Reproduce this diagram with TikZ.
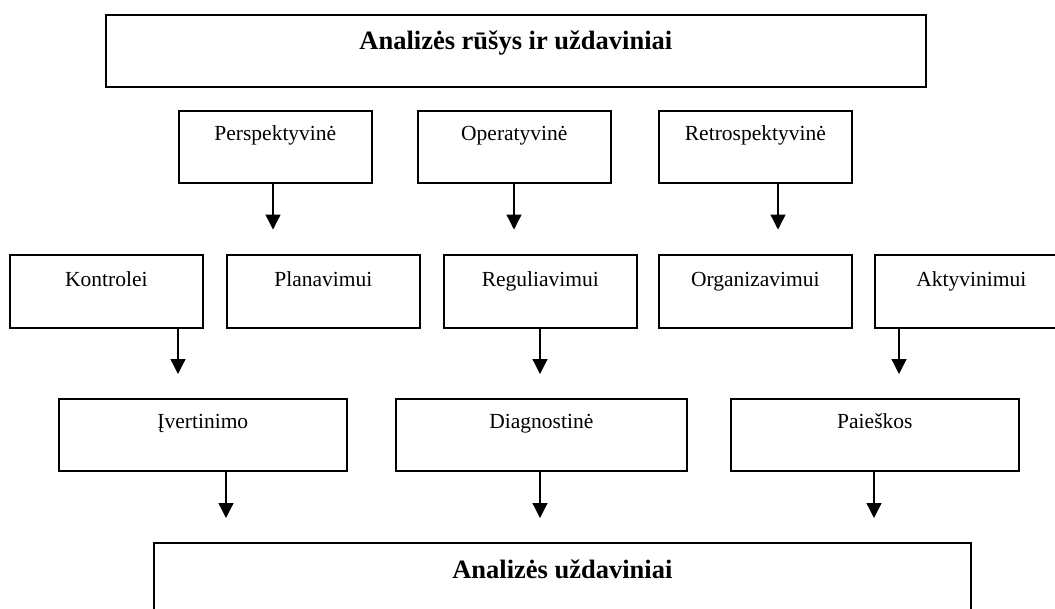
\documentclass[tikz,border=0pt]{standalone}
\usepackage{fontspec}
\setmainfont{Liberation Serif}
\usetikzlibrary{arrows.meta}
\begin{document}
\begin{tikzpicture}[x=1pt,y=-1pt,
  box/.style={draw, line width=1.7pt, inner sep=0pt, anchor=north west,
    font=\fontsize{21.5}{24}\selectfont, text height=30pt, text depth=42pt},
  bigbox/.style={draw, line width=1.7pt, inner sep=0pt, anchor=north west,
    font=\fontsize{26.5}{30}\bfseries\selectfont},
  arr/.style={line width=1.3pt, -{Triangle[width=15pt,length=15pt]}}]
\clip (0,0) rectangle (1055,608);
\fill[white] (0,0) rectangle (1055,608);
% top
\node[bigbox, minimum width=820pt, text height=35pt, text depth=37pt] (top) at (105,14) {Analizės rūšys ir uždaviniai};
% row 2
\node[box, minimum width=193pt] (persp) at (178,110) {Perspektyvinė};
\node[box, minimum width=193pt] (oper) at (417,110) {Operatyvinė};
\node[box, minimum width=193pt] (retro) at (658,110) {Retrospektyvinė};
% row 3
\node[box, minimum width=193pt, text height=32pt, text depth=41pt] (kontr) at (9,254) {Kontrolei};
\node[box, minimum width=193pt, text height=32pt, text depth=41pt] (plan) at (226,254) {Planavimui};
\node[box, minimum width=193pt, text height=32pt, text depth=41pt] (regul) at (443,254) {Reguliavimui};
\node[box, minimum width=193pt, text height=32pt, text depth=41pt] (organ) at (658,254) {Organizavimui};
\node[box, minimum width=193pt, text height=32pt, text depth=41pt] (aktyv) at (874,254) {Aktyvinimui};
% row 4
\node[box, minimum width=288pt] (ivert) at (58,398) {Įvertinimo};
\node[box, minimum width=291pt] (diagn) at (395,398) {Diagnostinė};
\node[box, minimum width=288pt] (paiesk) at (730,398) {Paieškos};
% bottom
\node[bigbox, minimum width=817pt, text height=36pt, text depth=44pt] (bottom) at (153,542) {Analizės uždaviniai};
% arrow tips
\coordinate (a1) at (273,229.5);
\coordinate (a2) at (514,229.5);
\coordinate (a3) at (778,229.5);
\coordinate (b1) at (178,374);
\coordinate (b2) at (540,374);
\coordinate (b3) at (899,374);
\coordinate (c1) at (226,518);
\coordinate (c2) at (540,518);
\coordinate (c3) at (874,518);
\draw[arr] (a1 |- persp.south) -- (a1);
\draw[arr] (a2 |- oper.south) -- (a2);
\draw[arr] (a3 |- retro.south) -- (a3);
\draw[arr] (b1 |- kontr.south) -- (b1);
\draw[arr] (b2 |- regul.south) -- (b2);
\draw[arr] (b3 |- aktyv.south) -- (b3);
\draw[arr] (c1 |- ivert.south) -- (c1);
\draw[arr] (c2 |- diagn.south) -- (c2);
\draw[arr] (c3 |- paiesk.south) -- (c3);
\end{tikzpicture}
\end{document}
